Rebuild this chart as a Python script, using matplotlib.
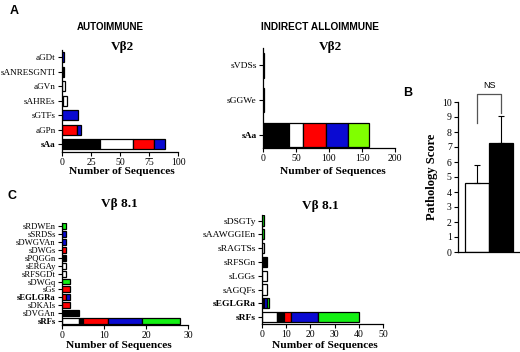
import matplotlib
matplotlib.use("Agg")
import matplotlib.pyplot as plt

# ---- data ----
# panel A, autoimmune Vb2 (bottom to top)
a_auto_cats = ["sAa", "aGPn", "sGTFs", "sAHREs", "aGVn", "sANRESGNTI", "aGDt"]
a_auto_black = [33, 0, 0, 1, 0, 2, 0]
a_auto_white = [28, 0, 0, 3, 3, 0, 0]
a_auto_red = [18, 13, 0, 0, 0, 0, 0]
a_auto_blue = [10, 3, 14, 0, 0, 0, 2]
a_auto_green = [0, 0, 0, 0, 0, 0, 0]

# panel A, indirect alloimmune Vb2
a_allo_cats = ["sAa", "sGGWe", "sVDSs"]
a_allo_black = [39, 0, 0]
a_allo_white = [21, 1, 1]
a_allo_red = [36, 0, 0]
a_allo_blue = [33, 0, 0]
a_allo_green = [32, 0, 0]

# panel C, autoimmune Vb8.1
c_auto_cats = ["sRFs", "sDVGAn", "sDKAIs", "sEGLGRa", "sGs", "sDWGq", "sRFSGDt",
               "sERGAy", "sPQGGn", "sDWGs", "sDWGVAn", "sSRDSs", "sRDWEn"]
c_auto_white = [4, 0, 0, 0, 0, 0, 1, 1, 0, 0, 0, 0, 0]
c_auto_black = [1, 4, 0, 0, 0, 0, 0, 0, 1, 0, 0, 0, 0]
c_auto_red = [6, 0, 2, 1, 2, 0, 0, 0, 0, 1, 0, 0, 0]
c_auto_blue = [8, 0, 0, 1, 0, 0, 0, 0, 0, 0, 1, 1, 0]
c_auto_green = [9, 0, 0, 0, 0, 2, 0, 0, 0, 0, 0, 0, 1]

# panel C, indirect alloimmune Vb8.1
c_allo_cats = ["sRFs", "sEGLGRa", "sAGQFs", "sLGGs", "sRFSGn", "sRAGTSs", "sAAWGGIEn", "sDSGTy"]
c_allo_white = [6, 0, 2, 2, 0, 1, 0, 0]
c_allo_black = [3, 1, 0, 0, 2, 0, 0, 0]
c_allo_red = [3, 0, 0, 0, 0, 0, 0, 0]
c_allo_blue = [11, 1, 0, 0, 0, 0, 0, 0]
c_allo_green = [17, 1, 0, 0, 0, 0, 1, 1]

# panel B
b_means = [4.6, 7.3]
b_errs = [1.2, 1.75]

W, H = 520, 352
SERIF = "Liberation Serif"
SANS = "Liberation Sans"
RED = "#ff0000"
BLUE = "#0a0ad2"
GREEN_A = "#80ff00"
GREEN_C = "#14f014"

fig = plt.figure(figsize=(W / 100, H / 100), dpi=100)


def box(x0, x1, y0, y1):
    # pixel box (top-down y) -> figure rect
    return [x0 / W, 1 - y1 / H, (x1 - x0) / W, (y1 - y0) / H]


def ftext(x, y, s, **kw):
    fig.text(x / W, 1 - y / H, s, ha="center", va="center", **kw)


def style(ax, labsize):
    for s in ["top", "right"]:
        ax.spines[s].set_visible(False)
    for s in ["left", "bottom"]:
        ax.spines[s].set_linewidth(0.9)
    ax.tick_params(direction="out", length=3, width=0.8, pad=1.5)
    for t in ax.get_xticklabels():
        t.set_fontfamily(SERIF)
        t.set_fontsize(7)
    for t in ax.get_yticklabels():
        t.set_fontfamily(SERIF)
        t.set_fontsize(labsize)


def stacked(ax, cats, segs, height, bold):
    y = list(range(len(cats)))
    left = [0] * len(cats)
    for vals, col in segs:
        for i, v in enumerate(vals):
            if v > 0:
                ax.barh(y[i], v, left=left[i], height=height, color=col,
                        edgecolor="black", linewidth=0.9)
        left = [l + v for l, v in zip(left, vals)]
    ax.set_yticks(y)
    ax.set_yticklabels(cats)
    for t in ax.get_yticklabels():
        if t.get_text() in bold:
            t.set_fontweight("bold")


# A left
ax1 = fig.add_axes(box(62, 178, 50, 152))
stacked(ax1, a_auto_cats,
        [(a_auto_black, "black"), (a_auto_white, "white"), (a_auto_red, RED),
         (a_auto_blue, BLUE), (a_auto_green, GREEN_A)], 0.7, ["sAa"])
ax1.set_xlim(0, 100)
ax1.set_ylim(-0.55, 6.5)
ax1.set_xticks([0, 25, 50, 75, 100])
style(ax1, 6.6)

# A right
ax2 = fig.add_axes(box(263, 395, 48, 148))
stacked(ax2, a_allo_cats,
        [(a_allo_black, "black"), (a_allo_white, "white"), (a_allo_red, RED),
         (a_allo_blue, BLUE), (a_allo_green, GREEN_A)], 0.7, ["sAa"])
ax2.set_xlim(0, 200)
ax2.set_ylim(-0.37, 2.5)
ax2.set_xticks([0, 50, 100, 150, 200])
style(ax2, 6.8)

# C left
ax3 = fig.add_axes(box(62, 188, 223, 325))
stacked(ax3, c_auto_cats,
        [(c_auto_white, "white"), (c_auto_black, "black"), (c_auto_red, RED),
         (c_auto_blue, BLUE), (c_auto_green, GREEN_C)], 0.75, ["sEGLGRa", "sRFs"])
ax3.set_xlim(0, 30)
ax3.set_ylim(-0.5, 12.4)
ax3.set_xticks([0, 10, 20, 30])
style(ax3, 6.2)

# C right
ax4 = fig.add_axes(box(262, 383, 215, 324))
stacked(ax4, c_allo_cats,
        [(c_allo_white, "white"), (c_allo_black, "black"), (c_allo_red, RED),
         (c_allo_blue, BLUE), (c_allo_green, GREEN_C)], 0.75, ["sEGLGRa", "sRFs"])
ax4.set_xlim(0, 50)
ax4.set_ylim(-0.5, 7.4)
ax4.set_xticks([0, 10, 20, 30, 40, 50])
style(ax4, 6.8)

# B
ax5 = fig.add_axes(box(458, 530, 102, 252))
xb = [0.8, 1.8]
ax5.bar(xb, b_means, width=0.98, color=["white", "black"], edgecolor="black", linewidth=0.9)
ax5.errorbar(xb, b_means, yerr=[[0, 0], b_errs], fmt="none", ecolor="black",
             elinewidth=0.8, capsize=2.5, capthick=0.8)
ax5.set_xlim(0, 3)
ax5.set_ylim(0, 10)
ax5.set_yticks(range(11))
ax5.set_xticks([])
style(ax5, 7)
ax5.plot([xb[0], xb[0], xb[1], xb[1]], [8.6, 10.55, 10.55, 9.3],
         color="#555555", lw=0.9, clip_on=False)
ax5.text(1.3, 11.1, "NS", ha="center", va="center", fontsize=6.5, family=SANS,
         clip_on=False)
ax5.set_ylabel("Pathology Score", family=SERIF, fontweight="bold", fontsize=9,
               labelpad=3)

# titles and labels
for x, y, s in [(14, 11, "A"), (408, 93, "B"), (12, 196, "C")]:
    ftext(x, y, s, family=SANS, fontweight="bold", fontsize=9)
ftext(110, 27, "AUTOIMMUNE", family=SANS, fontweight="bold", fontsize=7)
ftext(320, 27, "INDIRECT ALLOIMMUNE", family=SANS, fontweight="bold", fontsize=7.3)
ftext(122, 47, "V\u03b22", family=SERIF, fontweight="bold", fontsize=9.5)
ftext(330, 47, "V\u03b22", family=SERIF, fontweight="bold", fontsize=9.5)
ftext(119, 204, "V\u03b2 8.1", family=SERIF, fontweight="bold", fontsize=9.5)
ftext(320, 206, "V\u03b2 8.1", family=SERIF, fontweight="bold", fontsize=9.5)
for x, y in [(122, 172), (333, 172), (119, 345), (325, 345)]:
    ftext(x, y, "Number of Sequences", family=SERIF, fontweight="bold", fontsize=8.2)

fig.savefig("out.png", dpi=100)
